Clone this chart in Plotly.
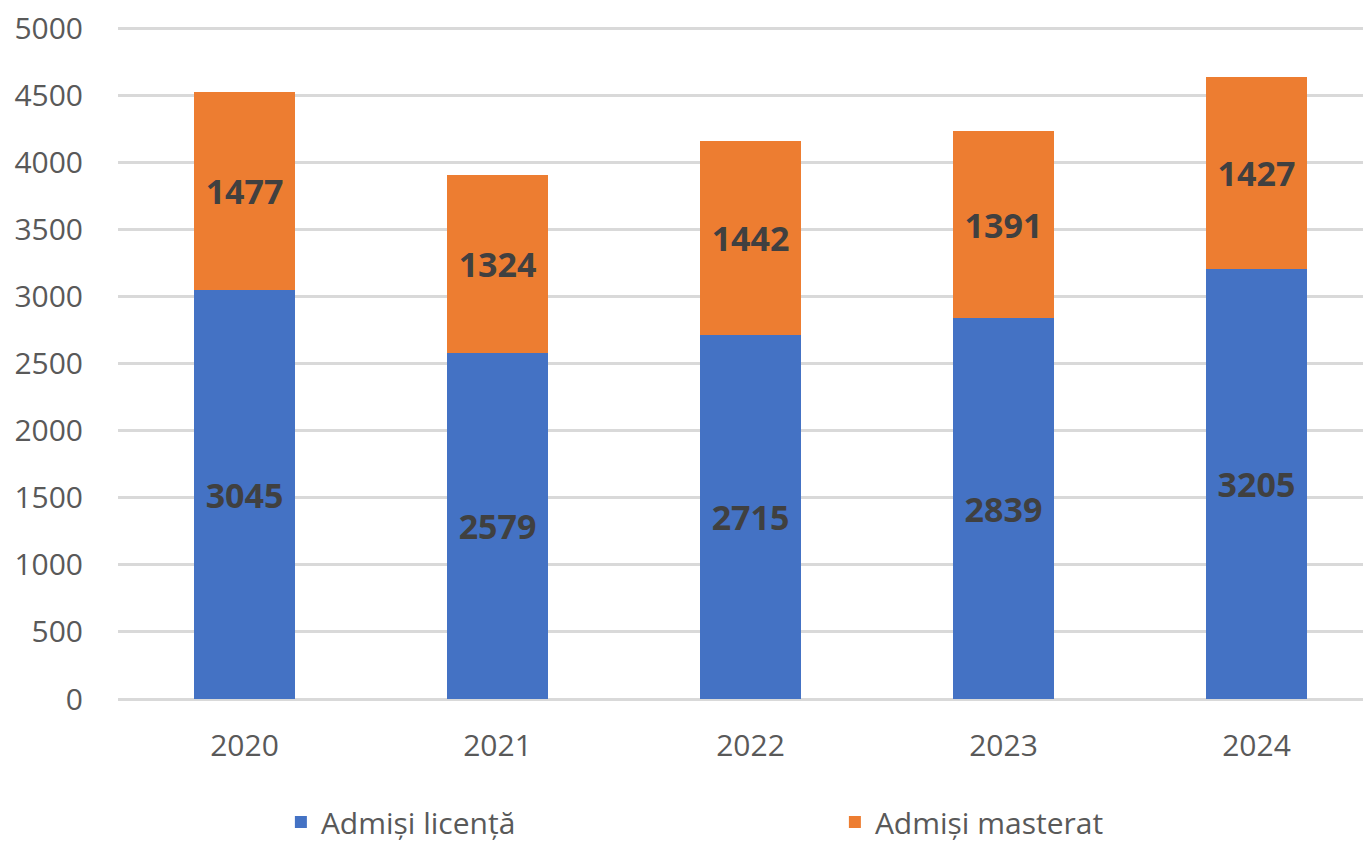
import plotly.graph_objects as go

years = ["2020", "2021", "2022", "2023", "2024"]
licenta = [3045, 2579, 2715, 2839, 3205]
masterat = [1477, 1324, 1442, 1391, 1427]
series_names = ["Admiși licență", "Admiși masterat"]
y_ticks = [0, 500, 1000, 1500, 2000, 2500, 3000, 3500, 4000, 4500, 5000]

FONT = "Open Sans, Noto Sans, DejaVu Sans, sans-serif"
LABEL_FONT = dict(family=FONT, size=34, color="#404040", weight="bold")

fig = go.Figure()
fig.add_trace(go.Bar(
    x=years, y=licenta, name=series_names[0], marker_color="#4472C4",
    text=licenta, textposition="inside", insidetextanchor="middle",
    textfont=LABEL_FONT, marker_line_width=0, textangle=0,
))
fig.add_trace(go.Bar(
    x=years, y=masterat, name=series_names[1], marker_color="#ED7D31",
    text=masterat, textposition="inside", insidetextanchor="middle",
    textfont=LABEL_FONT, marker_line_width=0, textangle=0,
))

# page body has an 8px default margin; figure sized so the plot reaches the window edge
fig.update_layout(
    width=1363, height=834,
    barmode="stack", bargap=0.6,
    plot_bgcolor="white", paper_bgcolor="white",
    margin=dict(l=110, r=0, t=16, b=143, autoexpand=False),
    font=dict(family=FONT, color="#595959"),
    legend=dict(
        orientation="h", x=0.130, xanchor="left",
        yref="container", y=0.024, yanchor="middle",
        entrywidth=509, entrywidthmode="pixels",
        font=dict(family=FONT, size=30, color="#595959"),
        traceorder="normal",
    ),
    xaxis=dict(
        type="category", range=[-0.5, 4.4526], automargin=False,
        tickfont=dict(family=FONT, size=30, color="#595959"),
        showgrid=False, showline=False, ticks="", ticklabelstandoff=26,
    ),
    yaxis=dict(
        range=[0, 5030], tickvals=y_ticks, automargin=False,
        tickfont=dict(family=FONT, size=30, color="#595959"),
        ticklabeloverflow="allow",
        showgrid=True, gridcolor="#D9D9D9", gridwidth=3,
        zeroline=True, zerolinecolor="#D9D9D9", zerolinewidth=3,
        ticks="", ticklabelstandoff=34,
    ),
)

fig.write_html("out.html")
